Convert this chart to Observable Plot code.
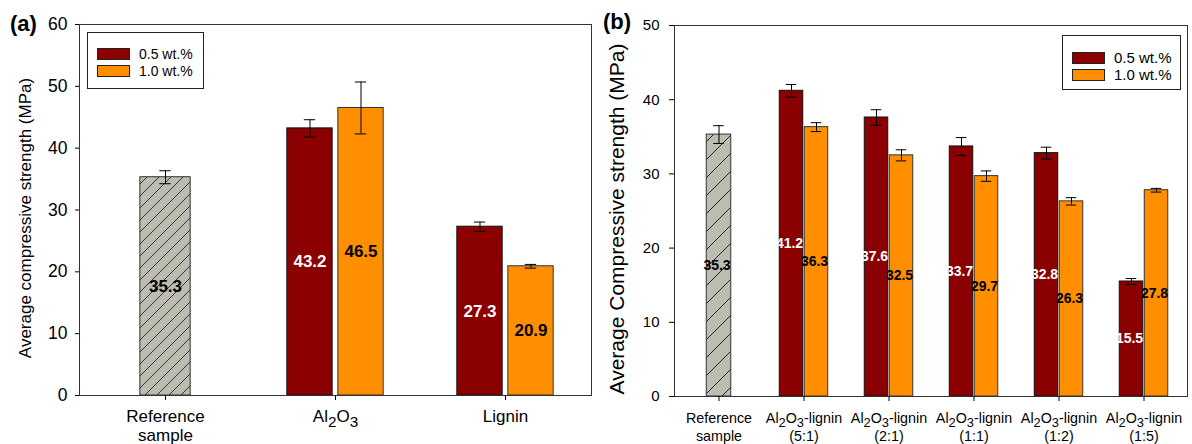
<!DOCTYPE html>
<html><head><meta charset="utf-8">
<script src="https://cdn.jsdelivr.net/npm/d3@7"></script>
<script src="https://cdn.jsdelivr.net/npm/@observablehq/plot@0.6"></script>
<style>
body{margin:0;background:#fff;font-family:"Liberation Sans",Arial,sans-serif;}
#wrap{position:relative;width:1192px;height:444px;overflow:hidden;}
.panel{position:absolute;top:0;width:596px;height:444px;}
.tag{position:absolute;font-weight:bold;font-size:22px;line-height:1;color:#000;}
.legend{position:absolute;border:1px solid #222;background:#fff;box-sizing:border-box;color:#000;}
.legend .row{position:absolute;left:9px;display:flex;align-items:center;}
.legend .sw{width:31px;height:10px;border:1px solid #222;margin-right:9px;}
</style></head>
<body>
<svg width="0" height="0" style="position:absolute">
  <defs>
    <pattern id="hatchA" patternUnits="userSpaceOnUse" width="12" height="12">
      <rect width="12" height="12" fill="#BCBCB0"/>
      <path d="M-1,13 L13,-1 M-3,3 L3,-3 M9,15 L15,9" stroke="#333" stroke-width="1"/>
    </pattern>
    <pattern id="hatchB" patternUnits="userSpaceOnUse" width="18" height="18">
      <rect width="18" height="18" fill="#BCBCB0"/>
      <path d="M-1,19 L19,-1 M-3,3 L3,-3 M15,21 L21,15" stroke="#222" stroke-width="1"/>
    </pattern>
  </defs>
</svg>
<div id="wrap">
  <div class="panel" id="pa" style="left:0"></div>
  <div class="panel" id="pb" style="left:596px"></div>
  <div class="tag" style="left:10px;top:13px">(a)</div>
  <div class="tag" style="left:603px;top:11px">(b)</div>
  <div class="legend" id="lga" style="left:87px;top:32px;width:117px;height:57px;font-size:14px"></div>
  <div class="legend" id="lgb" style="left:1062px;top:35px;width:119px;height:55px;font-size:15px"></div>
</div>
<script>
const seriesNames = ["0.5 wt.%", "1.0 wt.%"];
const seriesColors = ["#8B0000", "#FF8F00"];
const labelColors = ["#FFFFFF", "#000000"];

// Panel (a)
const catsA = ["Reference\nsample", "Al2O3", "Lignin"];
const refValA = 35.3, refErrA = 1.05;
const lowA = [43.2, 27.3];
const lowErrA = [1.4, 0.75];
const highA = [46.5, 20.9];
const highErrA = [4.2, 0.3];
const yTicksA = [0, 10, 20, 30, 40, 50, 60];
const yLabelA = "Average compressive strength (MPa)";

// Panel (b)
const catsB = ["Reference\nsample", "Al2O3-lignin\n(5:1)", "Al2O3-lignin\n(2:1)", "Al2O3-lignin\n(1:1)", "Al2O3-lignin\n(1:2)", "Al2O3-lignin\n(1:5)"];
const refValB = 35.3, refErrB = 1.2;
const lowB = [41.2, 37.6, 33.7, 32.8, 15.5];
const lowErrB = [0.85, 1.05, 1.2, 0.8, 0.4];
const highB = [36.3, 32.5, 29.7, 26.3, 27.8];
const highErrB = [0.6, 0.75, 0.7, 0.5, 0.25];
const yTicksB = [0, 10, 20, 30, 40, 50];
const yLabelB = "Average Compressive strength (MPa)";

function subscriptify(svg, shift) {
  const NS = "http://www.w3.org/2000/svg";
  svg.querySelectorAll("text, tspan").forEach(el => {
    if (el.children.length) return;
    const t = el.textContent;
    if (!t.includes("Al2O3")) return;
    const parts = t.split(/(Al2O3)/).filter(p => p);
    el.textContent = "";
    let pending = 0;
    const add = (s, dy, sub) => {
      const ts = document.createElementNS(NS, "tspan");
      ts.textContent = s;
      const total = dy + pending;
      pending = 0;
      if (total) ts.setAttribute("dy", total);
      if (sub) ts.setAttribute("font-size", "0.9em");
      el.appendChild(ts);
    };
    for (const p of parts) {
      if (p === "Al2O3") {
        add("Al", 0); add("2", shift, true); add("O", -shift); add("3", shift, true);
        pending = -shift;
      } else add(p, 0);
    }
  });
}

function panel(cfg) {
  const rows = [];
  rows.push({cat: cfg.cats[0], s: "ref", v: cfg.ref, e: cfg.refErr});
  cfg.low.forEach((v, i) => rows.push({cat: cfg.cats[i + 1], s: seriesNames[0], v, e: cfg.lowErr[i]}));
  cfg.high.forEach((v, i) => rows.push({cat: cfg.cats[i + 1], s: seriesNames[1], v, e: cfg.highErr[i]}));
  const bw = (cfg.width - cfg.ml - cfg.mr) / cfg.cats.length;
  const groups = [
    {s: "ref", dx: 0, w: cfg.refW, fill: cfg.hatch, text: "#000", stroke: "#333"},
    {s: seriesNames[0], dx: -cfg.off, w: cfg.barW, fill: seriesColors[0], text: labelColors[0], stroke: "#111"},
    {s: seriesNames[1], dx: cfg.off, w: cfg.barW, fill: seriesColors[1], text: labelColors[1], stroke: "#333"}
  ];
  const marks = [];
  for (const g of groups) {
    const d = rows.filter(r => r.s === g.s);
    const inset = (bw - g.w) / 2;
    const capInset = (bw - cfg.cap) / 2;
    marks.push(Plot.barY(d, {x: "cat", y: "v", fill: g.fill, stroke: g.stroke, strokeWidth: 1, insetLeft: inset, insetRight: inset, dx: g.dx}));
    marks.push(Plot.ruleX(d, {x: "cat", y1: r => r.v - r.e, y2: r => r.v + r.e, dx: g.dx, stroke: "#000", strokeWidth: 1}));
    marks.push(Plot.tickY(d, {x: "cat", y: r => r.v + r.e, dx: g.dx, insetLeft: capInset, insetRight: capInset, stroke: "#000"}));
    marks.push(Plot.tickY(d, {x: "cat", y: r => r.v - r.e, dx: g.dx, insetLeft: capInset, insetRight: capInset, stroke: "#000"}));
  }
  for (const g of groups) {
    const d = rows.filter(r => r.s === g.s);
    marks.push(Plot.text(d, {x: "cat", y: r => r.v / 2, text: r => r.v.toFixed(1), fill: g.text, fontWeight: "bold", fontSize: cfg.valFont, dx: g.dx + cfg.valDx}));
  }
  marks.push(Plot.frame({stroke: "#333", strokeWidth: 1}));
  marks.push(Plot.axisY({ticks: cfg.yTicks, tickSize: cfg.tickSize, tickPadding: cfg.yPad, fontSize: cfg.tickFont, label: null, stroke: "#000"}));
  marks.push(Plot.axisX({tickSize: 5, tickPadding: cfg.xPad, fontSize: cfg.xFont, lineHeight: cfg.xLine, label: null, stroke: "#000", tickFormat: d => d}));
  marks.push(Plot.text([cfg.yLabel], {frameAnchor: "left", textAnchor: "middle", text: d => d, rotate: -90, dx: cfg.yLabelDx, dy: cfg.yLabelDy, fontSize: cfg.yLabelFont, fill: "#000"}));
  const svg = Plot.plot({
    width: cfg.width, height: 444,
    marginLeft: cfg.ml, marginRight: cfg.mr, marginTop: cfg.mt, marginBottom: cfg.mb,
    x: {domain: cfg.cats, padding: 0},
    y: {domain: [0, cfg.yMax]},
    style: {fontFamily: "'Liberation Sans', Arial, sans-serif", color: "#000", background: "#fff", overflow: "visible"},
    marks
  });
  subscriptify(svg, cfg.subShift);
  return svg;
}

document.getElementById("pa").appendChild(panel({
  cats: catsA, ref: refValA, refErr: refErrA, low: lowA, lowErr: lowErrA, high: highA, highErr: highErrA,
  yTicks: yTicksA, yMax: 60, yLabel: yLabelA, hatch: "url(#hatchA)",
  width: 596, ml: 79, mr: 5, mt: 24, mb: 49,
  refW: 51, barW: 46, off: 25.5, cap: 12, valFont: 17, valDx: 0,
  tickSize: 4, yPad: 8, tickFont: 17.5, xPad: 8, xFont: 17, xLine: 1.12,
  yLabelDx: -54, yLabelDy: 8, yLabelFont: 17, subShift: 5
}));
document.getElementById("pb").appendChild(panel({
  cats: catsB, ref: refValB, refErr: refErrB, low: lowB, lowErr: lowErrB, high: highB, highErr: highErrB,
  yTicks: yTicksB, yMax: 50, yLabel: yLabelB, hatch: "url(#hatchB)",
  width: 596, ml: 78, mr: 5, mt: 25, mb: 48,
  refW: 25, barW: 24, off: 12.5, cap: 11, valFont: 14, valDx: -2,
  tickSize: 5, yPad: 10, tickFont: 15, xPad: 8, xFont: 14.3, xLine: 1.3,
  yLabelDx: -57, yLabelDy: 8, yLabelFont: 21, subShift: 4
}));

function legend(id) {
  const el = document.getElementById(id);
  seriesNames.forEach((n, i) => {
    const row = document.createElement("div");
    row.className = "row";
    row.style.top = (i === 0 ? 13 : 30) + "px";
    const sw = document.createElement("div");
    sw.className = "sw";
    sw.style.background = seriesColors[i];
    const tx = document.createElement("span");
    tx.textContent = n;
    row.appendChild(sw); row.appendChild(tx);
    el.appendChild(row);
  });
}
legend("lga"); legend("lgb");
</script>
</body></html>
